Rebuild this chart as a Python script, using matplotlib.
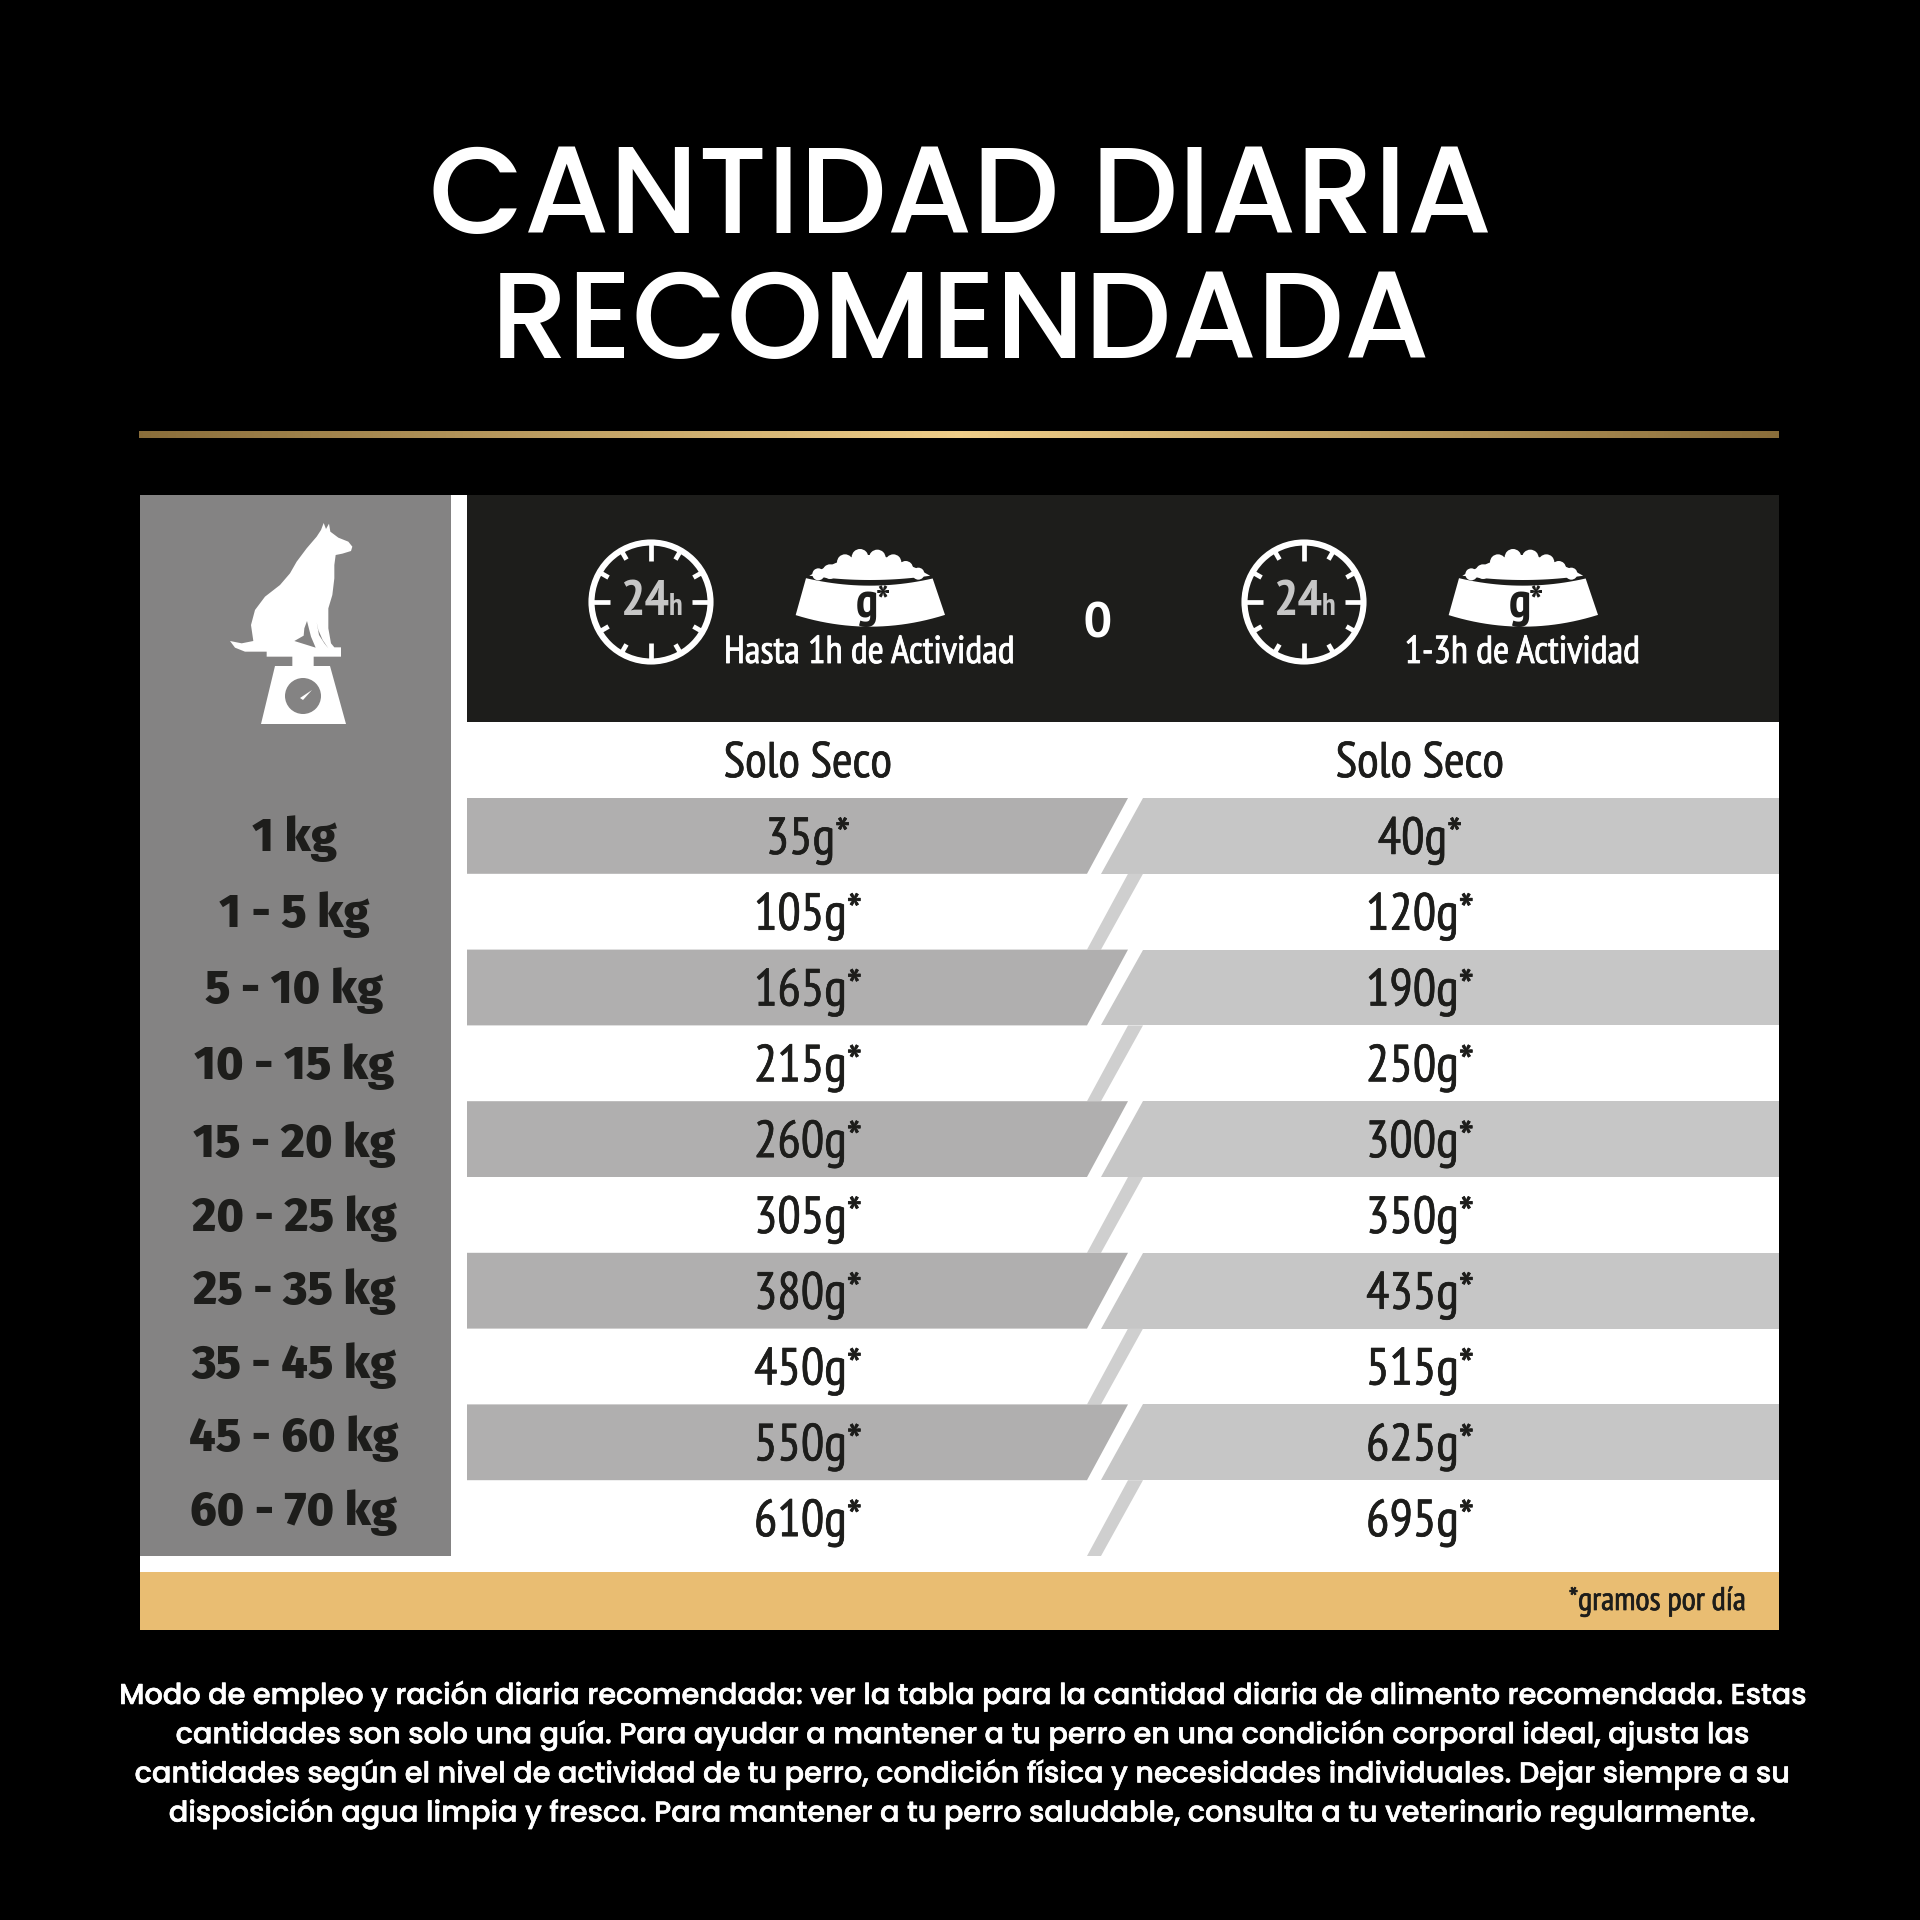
import numpy as np
import matplotlib
matplotlib.use("Agg")
import matplotlib.pyplot as plt
import matplotlib.patheffects as pe
from matplotlib.patches import Circle, Polygon, Rectangle

TITLE_LINES = ["CANTIDAD DIARIA", "RECOMENDADA"]
WEIGHT_LABELS = ["1 kg", "1 - 5 kg", "5 - 10 kg", "10 - 15 kg", "15 - 20 kg",
                 "20 - 25 kg", "25 - 35 kg", "35 - 45 kg", "45 - 60 kg", "60 - 70 kg"]
GRAMS_LOW = [35, 105, 165, 215, 260, 305, 380, 450, 550, 610]
GRAMS_HIGH = [40, 120, 190, 250, 300, 350, 435, 515, 625, 695]
ACTIVITY_LABELS = ["Hasta 1h de Actividad", "1-3h de Actividad"]
COLUMN_HEADER = "Solo Seco"
FOOTNOTE = "*gramos por día"
BODY_LINES = [
    "Modo de empleo y ración diaria recomendada: ver la tabla para la cantidad diaria de alimento recomendada. Estas",
    "cantidades son solo una guía. Para ayudar a mantener a tu perro en una condición corporal ideal, ajusta las",
    "cantidades según el nivel de actividad de tu perro, condición física y necesidades individuales. Dejar siempre a su",
    "disposición agua limpia y fresca. Para mantener a tu perro saludable, consulta a tu veterinario regularmente.",
]

# fonts
NARROW = ["PT Sans Narrow", "Roboto Condensed", "DejaVu Sans"]
WIDE = ["Poppins", "Inter", "DejaVu Sans"]
HEAVY = ["Fira Sans", "Lato", "DejaVu Sans"]
INK = "#1d1d1b"
PANEL = "#848383"

# layout, in pixels of the 1920 canvas
ROW_TOP = 798
ROW_H = 75.8
LABEL_BASELINES = [851, 927, 1003, 1079, 1157, 1231, 1304, 1378, 1451, 1525]
COL_LOW = 808
COL_HIGH = 1420

fig = plt.figure(figsize=(19.2, 19.2), dpi=100, facecolor="black")
ax = fig.add_axes([0, 0, 1, 1])


def thick(color, width):
    # the narrow font has no medium cut, a thin outline gets close
    return [pe.withStroke(linewidth=width, foreground=color)]


def clock(cx, cy):
    ax.add_patch(Circle((cx, cy), 59.5, fc="none", ec="white", lw=4.4))
    for h in range(12):
        a = np.radians(h * 30)
        inner = 41 if h % 3 == 0 else 49
        ax.plot([cx + inner * np.sin(a), cx + 60 * np.sin(a)],
                [cy - inner * np.cos(a), cy - 60 * np.cos(a)],
                color="white", lw=3.4, solid_capstyle="butt")
    ax.text(cx - 6, cy + 13, "24", color="#c6c6c6", fontsize=37, ha="center", va="baseline",
            family=NARROW, weight="bold")
    ax.text(cx + 25, cy + 13, "h", color="#c6c6c6", fontsize=22, ha="center", va="baseline",
            family=NARROW, weight="bold")


def bowl(cx):
    def to_px(zx, zy):
        return cx + (zx - 240) / 3, 535 + zy / 3

    for zx, peak, r in [(85, 100, 18), (120, 88, 22), (165, 58, 24), (210, 42, 25), (262, 44, 25),
                        (310, 58, 24), (347, 78, 22), (385, 98, 18)]:
        x, y = to_px(zx, peak + r)
        ax.add_patch(Circle((x, y), r / 3, fc="white", ec="none"))
    xs = np.linspace(58, 420, 25)
    kibble = [to_px(58, 122), to_px(100, 100), to_px(165, 72), to_px(210, 60), to_px(262, 60),
              to_px(310, 72), to_px(380, 100), to_px(420, 122)]
    kibble += [to_px(x, 122 + 13 * (1 - ((x - 240) / 182) ** 2)) for x in xs[::-1]]
    ax.add_patch(Polygon(kibble, fc="white", ec="none"))
    xs = np.linspace(48, 428, 25)
    body = [to_px(x, 130 + 22 * (1 - ((x - 240) / 190) ** 2)) for x in xs]
    xs = np.linspace(465, 17, 25)
    body += [to_px(x, 240 + 35 * (1 - ((x - 240) / 224) ** 2)) for x in xs]
    ax.add_patch(Polygon(body, fc="white", ec="none"))
    ax.text(cx - 3, 617, "g", color=INK, fontsize=36, ha="center", va="baseline", family=NARROW, weight="bold")
    ax.text(cx + 13, 617, "*", color=INK, fontsize=32, ha="center", va="baseline", family=NARROW, weight="bold")


def icon_xy(points):
    pts = np.array(points, dtype=float)
    return np.column_stack([225 + pts[:, 0] / 3, 515 + pts[:, 1] / 3])


def dog_on_scale():
    outline = [(296, 24), (303, 42), (312, 26), (316, 50), (340, 68), (370, 80), (382, 95), (378, 108),
               (352, 116), (332, 120), (328, 150), (328, 190), (322, 240), (310, 280), (310, 340), (318, 385),
               (328, 397), (348, 397), (348, 425), (125, 425), (125, 410), (60, 410), (30, 398), (15, 378),
               (50, 385), (85, 378), (78, 330), (90, 285), (120, 245), (165, 210), (195, 175), (215, 140),
               (245, 100), (275, 65), (288, 45)]
    ax.add_patch(Polygon(icon_xy(outline), fc="white", ec="none"))
    ax.add_patch(Polygon(icon_xy([(246, 318), (238, 340), (236, 362), (208, 378), (272, 398), (258, 365)]),
                         fc=PANEL, ec="none"))
    ax.add_patch(Polygon(icon_xy([(275, 322), (282, 360), (298, 385), (310, 400), (293, 375), (280, 345)]),
                         fc=PANEL, ec="none"))
    ax.add_patch(Polygon(icon_xy([(202, 420), (266, 420), (266, 453), (315, 453), (363, 627), (108, 627),
                                  (150, 453), (202, 453)]), fc="white", ec="none"))
    cx, cy = icon_xy([(234, 543)])[0]
    ax.add_patch(Circle((cx, cy), 18, fc=PANEL, ec="none"))
    ax.add_patch(Polygon(icon_xy([(225, 549), (261, 525), (234, 555)]), fc="white", ec="none"))


for i, line in enumerate(TITLE_LINES):
    ax.text(961, 233 + i * 125, line, color="white", ha="center", va="baseline",
            fontsize=88.4, family=WIDE, weight=500)

# gold rule
gold = [[0.54, 0.43, 0.23], [0.94, 0.81, 0.54], [0.54, 0.43, 0.23]]
grad = np.stack([np.interp(np.linspace(0, 2, 400), [0, 1, 2], [g[c] for g in gold]) for c in range(3)], axis=1)[None, :, :]
ax.imshow(grad, extent=(139, 1779, 438, 431), aspect="auto", zorder=1)

# panels
ax.add_patch(Rectangle((140, 495), 1639, 1077, fc="white", ec="none"))
ax.add_patch(Rectangle((467, 495), 1312, 227, fc=INK, ec="none"))
ax.add_patch(Rectangle((140, 495), 311, 1061, fc=PANEL, ec="none"))
ax.add_patch(Rectangle((140, 1572), 1639, 58, fc="#e9bd72", ec="none"))

for i in range(len(WEIGHT_LABELS)):
    y0 = ROW_TOP + i * ROW_H
    y1 = y0 + ROW_H
    if i % 2 == 0:
        ax.add_patch(Polygon([(467, y0), (1128, y0), (1087, y1), (467, y1)], fc="#b0afaf", ec="none"))
        ax.add_patch(Polygon([(1143, y0), (1779, y0), (1779, y1), (1101, y1)], fc="#c6c6c6", ec="none"))
    else:
        ax.add_patch(Polygon([(1128, y0), (1143, y0), (1101, y1), (1087, y1)], fc="#cfcfcf", ec="none"))
    base = y0 + ROW_H / 2 + 18
    for col, grams in ((COL_LOW, GRAMS_LOW), (COL_HIGH, GRAMS_HIGH)):
        ax.text(col, base, f"{grams[i]}g*", ha="center", va="baseline", color=INK, fontsize=37.5, family=NARROW,
                path_effects=thick(INK, 0.5))
    ax.text(294, LABEL_BASELINES[i], WEIGHT_LABELS[i], ha="center", va="baseline", color=INK, fontsize=33.5,
            family=HEAVY, weight=800)

# header
dog_on_scale()
for cx_clock, cx_bowl, label in zip((651, 1304), (870, 1523), ACTIVITY_LABELS):
    clock(cx_clock, 602)
    bowl(cx_bowl)
    ax.text(cx_bowl - 1, 663, label, color="white", ha="center", va="baseline", fontsize=28, family=NARROW,
            path_effects=thick("white", 0.6))
ax.text(1097, 638, "O", color="white", ha="center", va="baseline", fontsize=36, family=NARROW, weight="bold")
for cx in (COL_LOW, COL_HIGH):
    ax.text(cx, 777, COLUMN_HEADER, color=INK, ha="center", va="baseline", fontsize=36, family=NARROW,
            path_effects=thick(INK, 0.5))

ax.text(1746, 1610, FOOTNOTE, color=INK, ha="right", va="baseline", fontsize=23.5, family=NARROW,
        path_effects=thick(INK, 0.5))

for i, line in enumerate(BODY_LINES):
    ax.text(961, 1704 + i * 39.2, line, color="white", ha="center", va="baseline", fontsize=20.7,
            family=WIDE, weight=500, path_effects=thick("white", 0.4))

ax.set_xlim(0, 1920)
ax.set_ylim(1920, 0)
ax.axis("off")
fig.savefig("out.png", dpi=100, facecolor="black")
